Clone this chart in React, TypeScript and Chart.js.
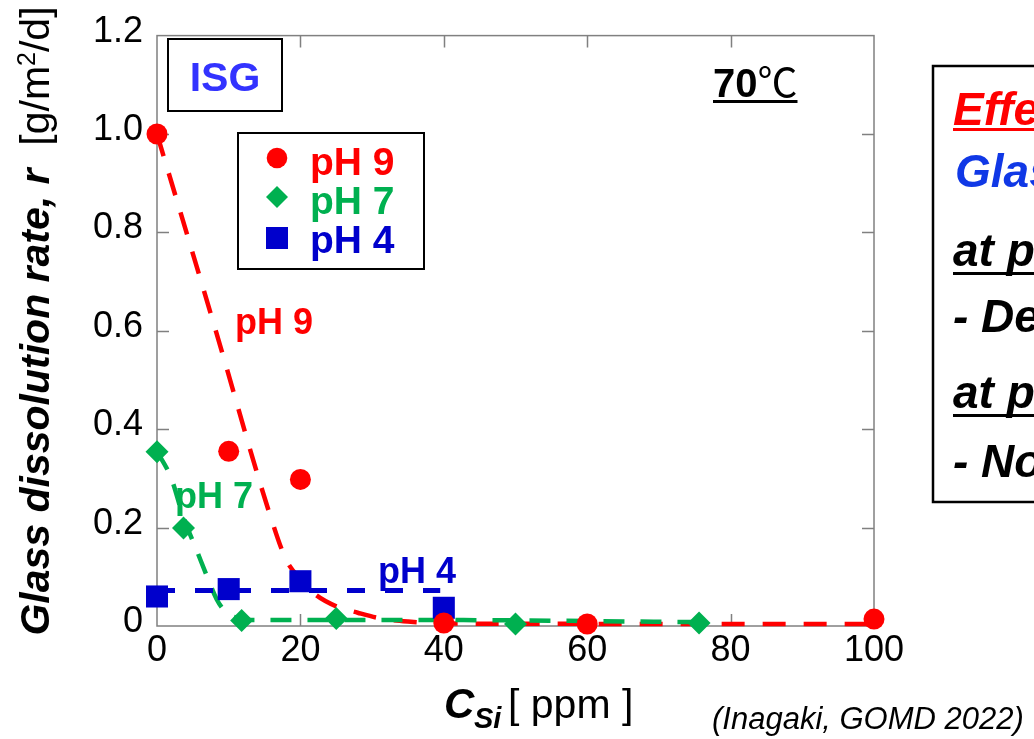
import React, { useEffect, useRef } from 'react';
import { Chart, registerables } from 'chart.js';

Chart.register(...registerables);

// ---- data ----
const xTickValues = [0, 20, 40, 60, 80, 100];
const yTickValues = [0, 0.2, 0.4, 0.6, 0.8, 1.0, 1.2];

const ph9X = [0, 10, 20, 40, 60, 100];
const ph9Y = [1.0, 0.355, 0.298, 0.006, 0.004, 0.014];

const ph7X = [0, 3.7, 11.8, 25, 50, 75.6];
const ph7Y = [0.354, 0.199, 0.011, 0.015, 0.004, 0.006];

const ph4X = [0, 10, 20, 40];
const ph4Y = [0.06, 0.075, 0.091, 0.037];

// dashed guide curves
const fit9X = [0, 8, 16, 18, 20, 22, 25, 28, 31, 35, 40, 100];
const fit9Y = [1.0, 0.61, 0.215, 0.135, 0.095, 0.065, 0.04, 0.027, 0.016, 0.009, 0.005, 0.004];

const fit7X = [0, 2, 3.7, 5.5, 7, 8.3, 9.5, 11, 14, 40, 75];
const fit7Y = [0.355, 0.3, 0.22, 0.155, 0.1, 0.055, 0.03, 0.017, 0.012, 0.012, 0.008];

const fit4X = [0, 39.5];
const fit4Y = [0.072, 0.072];

const seriesNames = ['pH 9', 'pH 7', 'pH 4'];
const seriesColors = ['#ff0000', '#00b050', '#0000cc'];

const FONT = '"Liberation Sans", Arial, Helvetica, sans-serif';

const toPts = (xs: number[], ys: number[]) => xs.map((x, i) => ({ x, y: ys[i] }));

function drawMarker(ctx: CanvasRenderingContext2D, kind: string, x: number, y: number, color: string) {
  ctx.save();
  ctx.fillStyle = color;
  ctx.beginPath();
  if (kind === 'circle') {
    ctx.arc(x, y, 10.3, 0, Math.PI * 2);
  } else if (kind === 'diamond') {
    const r = 11;
    ctx.moveTo(x - r, y);
    ctx.lineTo(x, y - r);
    ctx.lineTo(x + r, y);
    ctx.lineTo(x, y + r);
    ctx.closePath();
  } else {
    const h = 11;
    ctx.rect(x - h, y - h, 2 * h, 2 * h);
  }
  ctx.fill();
  ctx.restore();
}

function text(
  ctx: CanvasRenderingContext2D,
  s: string,
  x: number,
  y: number,
  font: string,
  color: string,
  align: CanvasTextAlign = 'left'
) {
  ctx.font = font;
  ctx.fillStyle = color;
  ctx.textAlign = align;
  ctx.textBaseline = 'alphabetic';
  ctx.fillText(s, x, y);
  return ctx.measureText(s).width;
}

function underline(ctx: CanvasRenderingContext2D, x: number, y: number, w: number, color: string, lw = 3) {
  ctx.save();
  ctx.fillStyle = color;
  ctx.fillRect(x, y, w, lw);
  ctx.restore();
}

const framePlugin = {
  id: 'frameTicks',
  beforeDatasetsDraw(chart: any) {
    const { ctx, chartArea: a, scales } = chart;
    ctx.save();
    ctx.strokeStyle = '#808080';
    ctx.lineWidth = 1.5;
    ctx.strokeRect(a.left, a.top, a.right - a.left, a.bottom - a.top);
    const tl = 12;
    ctx.beginPath();
    for (const v of yTickValues.slice(1, -1)) {
      const py = Math.round(scales.y.getPixelForValue(v)) + 0.5;
      ctx.moveTo(a.left, py);
      ctx.lineTo(a.left + tl, py);
      ctx.moveTo(a.right, py);
      ctx.lineTo(a.right - tl, py);
    }
    for (const v of xTickValues.slice(1, -1)) {
      const px = Math.round(scales.x.getPixelForValue(v)) + 0.5;
      ctx.moveTo(px, a.bottom);
      ctx.lineTo(px, a.bottom - tl);
      ctx.moveTo(px, a.top);
      ctx.lineTo(px, a.top + tl);
    }
    ctx.stroke();
    ctx.restore();
  },
  afterDraw(chart: any) {
    const { ctx } = chart;
    ctx.save();

    // Y axis title (rotated)
    ctx.save();
    ctx.translate(49, 321);
    ctx.rotate(-Math.PI / 2);
    const fB = `italic bold 41px ${FONT}`;
    const fR = `41px ${FONT}`;
    const fS = `25px ${FONT}`;
    const p1 = 'Glass dissolution rate, r';
    const p2 = '  [g/m';
    const p3 = '2';
    const p4 = '/d]';
    ctx.font = fB; const w1 = ctx.measureText(p1).width;
    ctx.font = fR; const w2 = ctx.measureText(p2).width; const w4 = ctx.measureText(p4).width;
    ctx.font = fS; const w3 = ctx.measureText(p3).width;
    let cx = -(w1 + w2 + w3 + w4) / 2;
    cx += text(ctx, p1, cx, 0, fB, '#000');
    cx += text(ctx, p2, cx, 0, fR, '#000');
    cx += text(ctx, p3, cx, -14, fS, '#000');
    text(ctx, p4, cx, 0, fR, '#000');
    ctx.restore();

    // X axis title
    text(ctx, 'C', 444, 718, `italic bold 42px ${FONT}`, '#000');
    text(ctx, 'Si', 474, 728, `italic bold 29px ${FONT}`, '#000');
    text(ctx, '[ ppm ]', 508, 718, `41px ${FONT}`, '#000');

    // citation
    text(ctx, '(Inagaki, GOMD 2022)', 712, 729, `italic 31px ${FONT}`, '#000');

    // ISG box
    ctx.strokeStyle = '#000';
    ctx.lineWidth = 2;
    ctx.strokeRect(168, 39, 114, 72);
    text(ctx, 'ISG', 225, 91, `bold 41px ${FONT}`, '#3333ff', 'center');

    // legend box
    ctx.strokeRect(238, 133, 186, 136);
    const kinds = ['circle', 'diamond', 'square'];
    const rows = [158, 197, 238];
    const bases = [175, 214, 253];
    for (let i = 0; i < 3; i++) {
      drawMarker(ctx, kinds[i], 277, rows[i], seriesColors[i]);
      text(ctx, seriesNames[i], 310, bases[i], `bold 39px ${FONT}`, seriesColors[i]);
    }

    // curve labels
    text(ctx, 'pH 9', 235, 334, `bold 36px ${FONT}`, '#ff0000');
    text(ctx, 'pH 7', 175, 508, `bold 36px ${FONT}`, '#00b050');
    text(ctx, 'pH 4', 378, 583, `bold 36px ${FONT}`, '#0000cc');

    // 70 C
    const w70 = text(ctx, '70', 713, 97, `bold 40px ${FONT}`, '#000');
    const wC = text(ctx, '\u2103', 713 + w70, 97, `40px "Noto Sans CJK JP", ${FONT}`, '#000');
    underline(ctx, 713, 100, w70 + wC, '#000', 3);

    // right-hand note box (cut by the picture edge)
    ctx.strokeStyle = '#000';
    ctx.lineWidth = 2.5;
    ctx.strokeRect(933, 66, 200, 436);
    const fN = `italic bold 46px ${FONT}`;
    let w = text(ctx, 'Effect of Si', 953, 125, fN, '#ff0000');
    underline(ctx, 953, 128, w, '#ff0000', 3);
    text(ctx, 'Glass dissolution', 955, 187, fN, '#1038e6');
    w = text(ctx, 'at pH 9', 953, 266, fN, '#000');
    underline(ctx, 953, 272, w, '#000', 3);
    text(ctx, '- Decrease', 953, 332, fN, '#000');
    w = text(ctx, 'at pH 4, 7', 953, 408, fN, '#000');
    underline(ctx, 953, 414, w, '#000', 3);
    text(ctx, '- No effect', 953, 477, fN, '#000');

    ctx.restore();
  },
};

export default function App() {
  const ref = useRef<HTMLCanvasElement | null>(null);

  useEffect(() => {
    document.body.style.margin = '0';
    const canvas = ref.current;
    if (!canvas) return;
    const chart = new Chart(canvas, {
      type: 'scatter',
      data: {
        datasets: [
          {
            label: 'pH 9',
            data: toPts(ph9X, ph9Y),
            pointStyle: 'circle',
            pointRadius: 10.5,
            pointBackgroundColor: '#ff0000',
            pointBorderWidth: 0,
            borderWidth: 0,
            clip: false,
            order: 0,
          },
          {
            label: 'pH 7',
            data: toPts(ph7X, ph7Y),
            pointStyle: 'rectRot',
            pointRadius: 11.5,
            pointBackgroundColor: '#00b050',
            pointBorderWidth: 0,
            borderWidth: 0,
            clip: false,
            order: 1,
          },
          {
            label: 'pH 4',
            data: toPts(ph4X, ph4Y),
            pointStyle: 'rect',
            pointRadius: 15.6,
            pointBackgroundColor: '#0000cc',
            pointBorderWidth: 0,
            borderWidth: 0,
            clip: false,
            order: 2,
          },
          {
            label: 'pH 4 trend',
            data: toPts(fit4X, fit4Y),
            showLine: true,
            pointRadius: 0,
            borderColor: '#0000cc',
            borderWidth: 5,
            borderDash: [18, 20],
            clip: false,
            order: 3,
          },
          {
            label: 'pH 7 trend',
            data: toPts(fit7X, fit7Y),
            showLine: true,
            pointRadius: 0,
            borderColor: '#00b050',
            borderWidth: 4.5,
            borderDash: [21, 16],
            cubicInterpolationMode: 'monotone',
            clip: false,
            order: 4,
          },
          {
            label: 'pH 9 trend',
            data: toPts(fit9X, fit9Y),
            showLine: true,
            pointRadius: 0,
            borderColor: '#ff0000',
            borderWidth: 4.5,
            borderDash: [23, 18],
            cubicInterpolationMode: 'monotone',
            clip: false,
            order: 5,
          },
        ] as any,
      },
      options: {
        animation: false,
        responsive: false,
        devicePixelRatio: 1,
        events: [],
        layout: { padding: { left: 0, top: 32, right: 160, bottom: 0 } },
        plugins: {
          legend: { display: false },
          tooltip: { enabled: false },
        },
        scales: {
          x: {
            type: 'linear',
            min: 0,
            max: 100,
            grid: { display: false, drawTicks: false },
            border: { display: false },
            ticks: {
              stepSize: 20,
              padding: 3,
              color: '#000',
              font: { family: FONT, size: 36 },
              callback: (v: any) => String(v),
            },
            afterFit: (s: any) => {
              s.height = 113;
            },
          },
          y: {
            type: 'linear',
            min: 0,
            max: 1.2,
            grid: { display: false, drawTicks: false },
            border: { display: false },
            ticks: {
              stepSize: 0.2,
              padding: 14,
              labelOffset: -4,
              color: '#000',
              font: { family: FONT, size: 36 },
              callback: (v: any) => (Math.abs(v) < 1e-9 ? '0' : Number(v).toFixed(1)),
            },
            afterFit: (s: any) => {
              s.width = 157;
            },
          },
        },
      } as any,
      plugins: [framePlugin],
    });
    return () => chart.destroy();
  }, []);

  return (
    <div style={{ position: 'absolute', left: 0, top: 0, width: 1034, height: 739, background: '#fff' }}>
      <canvas ref={ref} width={1034} height={739} style={{ display: 'block', width: 1034, height: 739 }} />
    </div>
  );
}
